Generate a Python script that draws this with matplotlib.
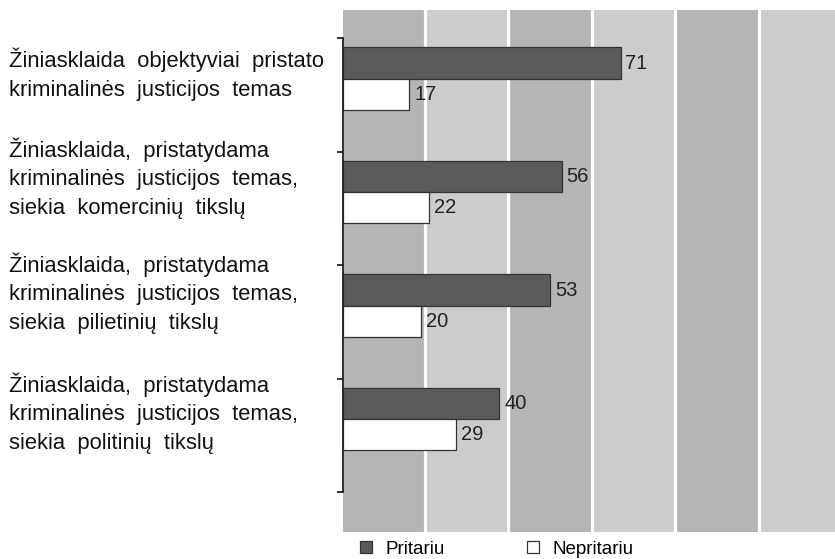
import matplotlib
matplotlib.use("Agg")
import matplotlib.pyplot as plt
from matplotlib.patches import Patch
import numpy as np

plt.rcParams['font.family'] = ['Liberation Sans', 'DejaVu Sans']

# ---- data ----
category_lines = [
    ["Žiniasklaida objektyviai pristato", "kriminalinės justicijos temas"],
    ["Žiniasklaida, pristatydama", "kriminalinės justicijos temas,", "siekia komercinių tikslų"],
    ["Žiniasklaida, pristatydama", "kriminalinės justicijos temas,", "siekia pilietinių tikslų"],
    ["Žiniasklaida, pristatydama", "kriminalinės justicijos temas,", "siekia politinių tikslų"],
]
pritariu = [71, 56, 53, 40]
nepritariu = [17, 22, 20, 29]
series_names = ["Pritariu", "Nepritariu"]

# ---- layout ----
W, H = 835, 559
fig = plt.figure(figsize=(W / 100, H / 100), dpi=100)
ax = fig.add_axes([343 / W, 1 - 532 / H, (W - 343) / W, (532 - 10) / H])

XMAX = 125.8
ax.set_xlim(0, XMAX)
ax.set_ylim(4.352, -0.247)

# background bands
dark_band, light_band = '#b5b5b5', '#cccccc'
first_edge, band_w = 20.9, 21.35
edges = [0.0]
e = first_edge
while e < XMAX:
    edges.append(e)
    e += band_w
edges.append(XMAX + band_w)
for k in range(len(edges) - 1):
    ax.axvspan(edges[k], edges[k + 1], color=dark_band if k % 2 == 0 else light_band,
               lw=0, zorder=0)
for e in edges[1:-1]:
    ax.axvline(e, color='white', lw=2.3, zorder=0.5)

idx = np.arange(len(pritariu))
y_dark = idx + 0.22
y_white = idx + 0.495
ax.barh(y_dark, pritariu, height=0.28, color='#5a5a5a', edgecolor='#333333',
        linewidth=0.9, zorder=3)
ax.barh(y_white, nepritariu, height=0.27, color='white', edgecolor='#333333',
        linewidth=0.9, zorder=3)

for y, v in zip(y_dark, pritariu):
    ax.annotate(str(v), (v, y), xytext=(3.3, 0), textcoords='offset points',
                ha='left', va='center', fontsize=14.5, color='#222222', zorder=4)
for y, v in zip(y_white, nepritariu):
    ax.annotate(str(v), (v, y), xytext=(3.3, 0), textcoords='offset points',
                ha='left', va='center', fontsize=14.5, color='#222222', zorder=4)

# axes styling
for s in ['top', 'right', 'bottom']:
    ax.spines[s].set_visible(False)
ax.spines['left'].set_bounds(0, len(pritariu))
ax.spines['left'].set_color('#222222')
ax.spines['left'].set_linewidth(1.3)
ax.spines['left'].set_zorder(5)
ax.set_yticks(np.arange(len(pritariu) + 1))
ax.set_yticklabels([])
ax.tick_params(axis='y', length=4.3, width=1.3, color='#222222', direction='out')
ax.set_xticks([])

# category labels (left side), with wide word spacing as in the original
first_baselines = [67.5, 156.7, 271.7, 391.7]
line_pitch = 28.7
for lines, yb in zip(category_lines, first_baselines):
    for j, line in enumerate(lines):
        fig.text(9 / W, 1 - (yb + j * line_pitch) / H, line.replace(' ', '  '),
                 ha='left', va='baseline', fontsize=15.8, color='#111111')

# legend
handles = [Patch(facecolor='#5a5a5a', edgecolor='#333333', linewidth=0.9),
           Patch(facecolor='white', edgecolor='#333333', linewidth=0.9)]
fig.legend(handles, series_names, loc='center left', bbox_to_anchor=(360 / W, 1 - 549 / H),
           ncol=2, frameon=False, fontsize=13.5, handlelength=0.64, handleheight=0.64,
           handletextpad=0.7, columnspacing=4.42, borderpad=0, borderaxespad=0)

fig.savefig('out.png', dpi=100)
